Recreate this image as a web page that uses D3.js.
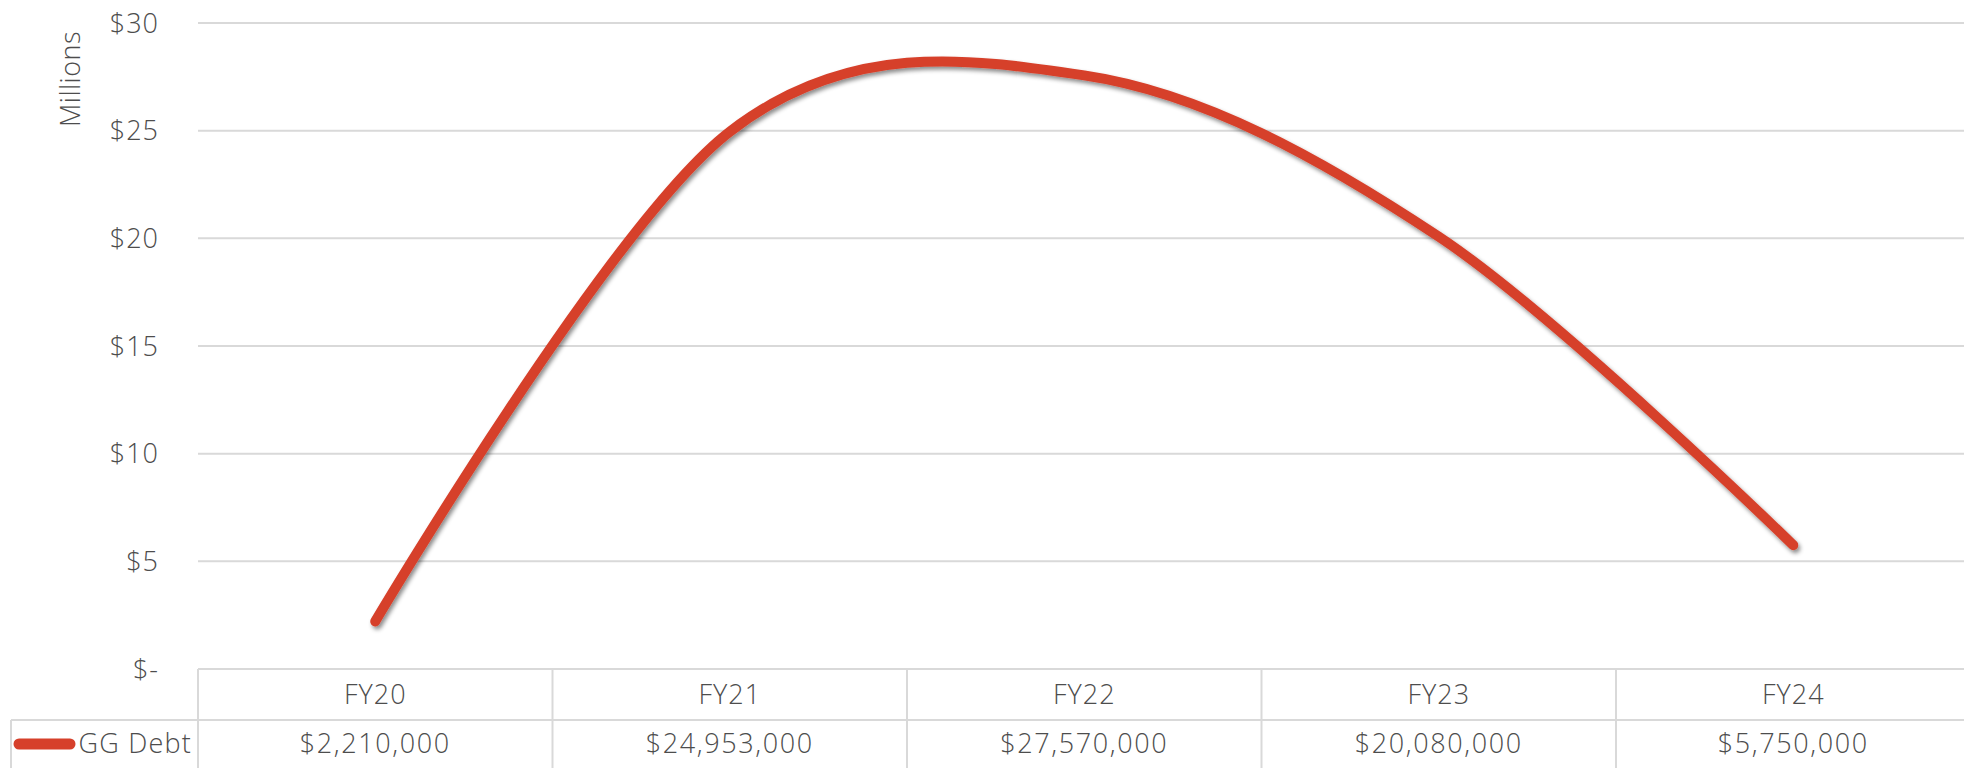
<!DOCTYPE html>
<html><head><meta charset="utf-8">
<script src="https://cdn.jsdelivr.net/npm/d3@7"></script>
<style>
html,body{margin:0;padding:0;background:#fff;}
svg{display:block;}
text{font-family:"Open Sans",sans-serif;font-weight:300;fill:#4d4d4d;}
</style></head>
<body>
<svg id="chart" width="1964" height="768"></svg>
<script>
const categories = ["FY20","FY21","FY22","FY23","FY24"];
const seriesName = "GG Debt";
const values = [2210000, 24953000, 27570000, 20080000, 5750000];
const yTicks = [0, 5, 10, 15, 20, 25, 30];
const yAxisTitle = "Millions";

(function(){
const W = 1964;
const plotLeft = 198, colW = 354.5, plotTop = 23, zeroY = 669, rowY = 720, tableBottom = 770;
const svg = d3.select("#chart");

const x = d3.scaleBand().domain(categories).range([plotLeft, plotLeft + colW * categories.length]);
const y = d3.scaleLinear().domain([0, 30]).range([zeroY, plotTop]);

const defs = svg.append("defs");
const f = defs.append("filter").attr("id","shadow").attr("x","-10%").attr("y","-10%").attr("width","120%").attr("height","130%");
f.append("feDropShadow").attr("dx",2).attr("dy",3).attr("stdDeviation",2.2).attr("flood-color","#000").attr("flood-opacity",0.45);

svg.append("g").selectAll("line").data(yTicks.filter(d=>d>0)).join("line")
  .attr("x1", plotLeft).attr("x2", W).attr("y1", d=>y(d)).attr("y2", d=>y(d))
  .attr("stroke","#d9d9d9").attr("stroke-width",2);

svg.append("g").selectAll("text").data(yTicks).join("text")
  .attr("x", 159).attr("y", d=>y(d)).attr("dy","0.36em")
  .attr("text-anchor","end").attr("font-size",27).attr("letter-spacing",1)
  .text(d => d === 0 ? "$-" : "$" + d);

svg.append("text").attr("transform","translate(80,79) rotate(-90)")
  .attr("text-anchor","middle").attr("font-size",27).attr("letter-spacing",0.5).text(yAxisTitle);

const tbl = svg.append("g").attr("stroke","#d9d9d9").attr("stroke-width",2);
tbl.append("line").attr("x1",plotLeft).attr("x2",W).attr("y1",zeroY).attr("y2",zeroY);
tbl.append("line").attr("x1",11).attr("x2",W).attr("y1",rowY).attr("y2",rowY);
tbl.append("line").attr("x1",11).attr("x2",W).attr("y1",tableBottom).attr("y2",tableBottom);
tbl.append("line").attr("x1",11).attr("x2",11).attr("y1",rowY).attr("y2",tableBottom);
tbl.selectAll("line.v").data(categories).join("line").attr("class","v")
  .attr("x1", d=>x(d)).attr("x2", d=>x(d)).attr("y1", zeroY).attr("y2", tableBottom);

svg.append("g").selectAll("text").data(categories).join("text")
  .attr("x", d=>x(d)+x.bandwidth()/2).attr("y", 694).attr("dy","0.36em")
  .attr("text-anchor","middle").attr("font-size",27).attr("letter-spacing",1).text(d=>d);

const fmt = d3.format("$,");
svg.append("g").selectAll("text").data(values).join("text")
  .attr("x", (d,i)=>x(categories[i])+x.bandwidth()/2).attr("y", 743).attr("dy","0.36em")
  .attr("text-anchor","middle").attr("font-size",27).attr("letter-spacing",1.6).text(d=>fmt(d));

svg.append("line").attr("x1",19).attr("x2",70).attr("y1",744).attr("y2",744)
  .attr("stroke","#d6402b").attr("stroke-width",11).attr("stroke-linecap","round");
svg.append("text").attr("x",192).attr("y",743).attr("dy","0.36em").attr("text-anchor","end")
  .attr("font-size",27).attr("letter-spacing",1.2).text(seriesName);

const line = d3.line()
  .x((d,i)=>x(categories[i])+x.bandwidth()/2)
  .y(d=>y(d/1e6))
  .curve(d3.curveCatmullRom.alpha(0));
svg.append("path").datum(values).attr("d", line)
  .attr("fill","none").attr("stroke","#d6402b").attr("stroke-width",10)
  .attr("stroke-linecap","round").attr("stroke-linejoin","round")
  .attr("filter","url(#shadow)");
})();
</script>
</body></html>
